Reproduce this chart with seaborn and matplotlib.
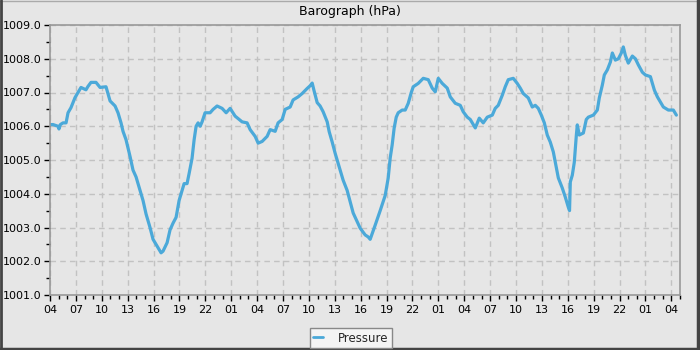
import matplotlib
matplotlib.use("Agg")
import matplotlib.pyplot as plt
import seaborn as sns
import pandas as pd
from matplotlib.ticker import MultipleLocator, FixedLocator
from matplotlib.lines import Line2D

# hours since 04:00 of the first day
hours = [0.0, 0.35, 0.93, 1.04, 1.2, 1.51, 1.86, 2.09, 2.43, 2.9, 3.25, 3.59, 4.17, 4.4, 4.75,
         5.33, 5.8, 6.49, 6.96, 7.54, 7.88, 8.23, 8.46, 8.81, 9.28, 9.62, 9.97, 10.43, 10.78,
         11.13, 11.59, 11.94, 12.17, 12.52, 12.87, 13.1, 13.57, 13.91, 14.26, 14.61, 14.96,
         15.3, 15.54, 15.88, 16.12, 16.46, 16.7, 16.93, 17.16, 17.4, 17.62, 17.97, 18.55,
         18.9, 19.36, 19.94, 20.41, 20.87, 21.45, 22.26, 22.84, 23.19, 23.77, 24.12, 24.58,
         25.16, 25.51, 26.09, 26.43, 26.9, 27.25, 27.83, 28.17, 28.75, 29.22, 29.8, 30.14,
         30.38, 30.6, 30.96, 31.3, 31.65, 32.12, 32.35, 32.7, 33.04, 33.39, 33.62, 33.97,
         34.43, 34.78, 35.13, 35.59, 35.94, 36.52, 36.87, 37.1, 37.68, 38.26, 38.84, 39.19,
         39.42, 39.65, 39.88, 40.12, 40.35, 40.81, 41.16, 41.51, 41.86, 42.09, 42.67, 43.25,
         43.83, 44.29, 44.64, 44.99, 45.45, 46.03, 46.38, 46.96, 47.54, 47.88, 48.35, 48.7,
         49.04, 49.28, 49.74, 50.2, 50.67, 51.25, 51.59, 51.94, 52.41, 52.75, 53.1, 53.68,
         54.14, 54.49, 54.84, 55.42, 55.88, 56.23, 56.58, 56.93, 57.28, 57.62, 57.97, 58.32,
         58.67, 58.9, 59.36, 59.71, 60.06, 60.2, 60.29, 60.52, 60.75, 60.99, 61.1, 61.33,
         61.8, 62.14, 62.38, 62.96, 63.42, 63.65, 64.0, 64.23, 64.58, 64.93, 65.16, 65.51,
         65.86, 66.2, 66.43, 66.67, 67.01, 67.48, 67.83, 68.17, 68.64, 68.99, 69.57, 70.03,
         70.38, 70.72, 71.07, 71.65, 72.23, 72.58]

pressure = [1006.05, 1006.05, 1006.0, 1005.92, 1006.05, 1006.1, 1006.1, 1006.4, 1006.55, 1006.85,
            1007.0, 1007.15, 1007.08, 1007.18, 1007.3, 1007.3, 1007.15, 1007.17, 1006.75, 1006.6,
            1006.4, 1006.1, 1005.85, 1005.6, 1005.1, 1004.7, 1004.5, 1004.1, 1003.8, 1003.4,
            1003.0, 1002.65, 1002.55, 1002.4, 1002.25, 1002.3, 1002.55, 1002.93, 1003.13, 1003.3,
            1003.8, 1004.1, 1004.3, 1004.3, 1004.6, 1005.05, 1005.6, 1006.0, 1006.1, 1006.0,
            1006.13, 1006.4, 1006.4, 1006.5, 1006.6, 1006.53, 1006.4, 1006.53, 1006.3, 1006.13,
            1006.1, 1005.9, 1005.7, 1005.5, 1005.55, 1005.7, 1005.9, 1005.85, 1006.1, 1006.2,
            1006.5, 1006.57, 1006.78, 1006.87, 1006.97, 1007.12, 1007.2, 1007.28, 1007.05, 1006.7,
            1006.6, 1006.43, 1006.13, 1005.84, 1005.53, 1005.2, 1004.9, 1004.7, 1004.4, 1004.1,
            1003.76, 1003.43, 1003.17, 1002.98, 1002.78, 1002.72, 1002.65, 1003.07, 1003.5, 1003.95,
            1004.47, 1005.06, 1005.45, 1005.95, 1006.27, 1006.4, 1006.48, 1006.48, 1006.68, 1007.0,
            1007.17, 1007.27, 1007.42, 1007.38, 1007.13, 1007.02, 1007.42, 1007.27, 1007.13, 1006.87,
            1006.68, 1006.62, 1006.43, 1006.27, 1006.2, 1006.05, 1005.95, 1006.24, 1006.1, 1006.27,
            1006.33, 1006.53, 1006.62, 1006.92, 1007.17, 1007.38, 1007.42, 1007.27, 1007.13, 1006.97,
            1006.84, 1006.57, 1006.62, 1006.53, 1006.33, 1006.1, 1005.74, 1005.53, 1005.24, 1004.77,
            1004.47, 1004.17, 1003.9, 1003.6, 1003.5, 1004.35, 1004.55, 1004.93, 1005.74, 1006.04,
            1005.74, 1005.8, 1006.2, 1006.27, 1006.33, 1006.48, 1006.84, 1007.22, 1007.52, 1007.67,
            1007.9, 1008.17, 1007.96, 1008.0, 1008.17, 1008.35, 1008.1, 1007.87, 1008.08, 1008.0,
            1007.82, 1007.6, 1007.52, 1007.47, 1007.07, 1006.87, 1006.72, 1006.57, 1006.48, 1006.48,
            1006.33]

tick_hours = [0, 3, 6, 9, 12, 15, 18, 21, 24, 27, 30, 33, 36, 39, 42, 45, 48, 51, 54, 57, 60, 63, 66, 69, 72]
tick_labels = ["04", "07", "10", "13", "16", "19", "22", "01", "04", "07", "10", "13", "16",
               "19", "22", "01", "04", "07", "10", "13", "16", "19", "22", "01", "04"]
y_ticks = [1001.0, 1002.0, 1003.0, 1004.0, 1005.0, 1006.0, 1007.0, 1008.0, 1009.0]

title = "Barograph (hPa)"
series_name = "Pressure"

sns.set_style("ticks")
plt.rcParams["font.family"] = ["DejaVu Sans"]

BG = "#e6e6e6"
LINE = "#4ba9d9"

fig = plt.figure(figsize=(7, 3.5), dpi=100, facecolor=BG)
ax = fig.add_axes([50 / 700, 55 / 350, 630 / 700, 270 / 350])
ax.set_facecolor(BG)

df = pd.DataFrame({"hour": hours, "pressure": pressure})
sns.lineplot(data=df, x="hour", y="pressure", ax=ax, color=LINE, linewidth=2.3,
             legend=False, estimator=None, sort=False)

ax.set_xlim(0, 73)
ax.set_ylim(1001, 1009)
ax.xaxis.set_major_locator(FixedLocator(tick_hours))
ax.set_xticklabels(tick_labels)
ax.xaxis.set_minor_locator(MultipleLocator(1))
ax.set_yticks(y_ticks)
ax.set_yticklabels([f"{v:.1f}" for v in y_ticks])
ax.yaxis.set_minor_locator(MultipleLocator(0.5))

ax.tick_params(axis="both", which="major", direction="out", length=4, width=1,
               color="black", labelsize=8, labelcolor="black")
ax.tick_params(axis="both", which="minor", direction="out", length=3, width=1, color="black")
ax.tick_params(axis="x", pad=3)
ax.tick_params(axis="y", pad=2)

ax.grid(True, which="major", color="#c2c2c2", linestyle=(0, (4, 3)), linewidth=1)
ax.set_axisbelow(True)
for s in ax.spines.values():
    s.set_color("#999999")
    s.set_linewidth(1.2)
    s.set_visible(True)
ax.set_xlabel("")
ax.set_ylabel("")

fig.text(0.5, 1 - 12 / 350, title, ha="center", va="center", fontsize=9, color="black")

handle = Line2D([], [], color=LINE, linewidth=2)
leg = fig.legend([handle], [series_name], loc="center", bbox_to_anchor=(351 / 700, 12 / 350),
                 fontsize=8.5, frameon=True, fancybox=False, handlelength=0.8, handletextpad=1.3,
                 borderpad=0.3, borderaxespad=0)
leg.get_frame().set_facecolor("#f4f4f4")
leg.get_frame().set_edgecolor("#888888")
leg.get_frame().set_linewidth(1)
leg.get_frame().set_alpha(1)

# figure frame
fig.add_artist(Line2D([0, 1], [0.997, 0.997], transform=fig.transFigure, color="#aaaaaa", linewidth=1))
fig.add_artist(Line2D([0.002, 0.002], [0, 1], transform=fig.transFigure, color="#444444", linewidth=2))
fig.add_artist(Line2D([0.997, 0.997], [0, 1], transform=fig.transFigure, color="#444444", linewidth=2.5))
fig.add_artist(Line2D([0, 1], [0.004, 0.004], transform=fig.transFigure, color="#444444", linewidth=2.5))

fig.savefig("out.png", dpi=100, facecolor=BG)
